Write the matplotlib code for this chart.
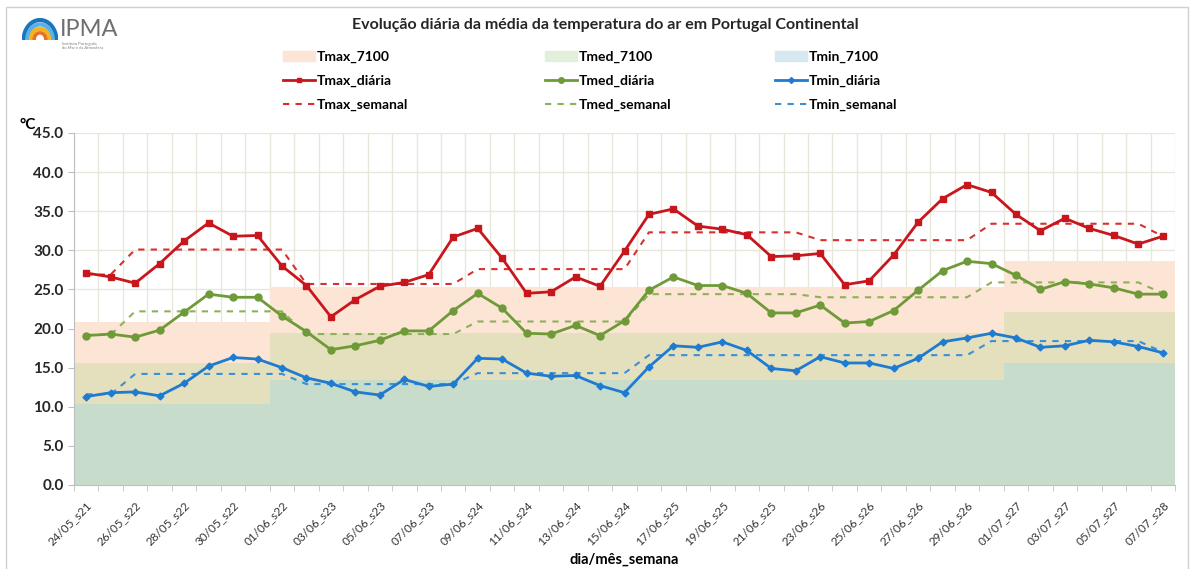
import numpy as np
import pandas as pd
import matplotlib
matplotlib.use('Agg')
import matplotlib.pyplot as plt
from matplotlib.patches import Patch, Arc, Rectangle
from matplotlib.lines import Line2D

plt.rcParams['font.family'] = ['Lato', 'DejaVu Sans']

# dias 24/05 a 07/07 e semana de cada dia
dias = pd.date_range('2023-05-24', '2023-07-07').strftime('%d/%m')
semanas = [21, 22, 23, 24, 25, 26, 27, 28]
dias_por_semana = [2, 7, 7, 7, 7, 7, 7, 1]
meses_dias = [8, 30, 7]  # maio, junho, julho dentro do periodo

tmax_diaria = [27.1, 26.6, 25.8, 28.3, 31.2, 33.5, 31.8, 31.9, 28.0, 25.5, 21.5, 23.7,
               25.4, 25.9, 26.9, 31.7, 32.8, 29.0, 24.5, 24.7, 26.6, 25.4, 29.9, 34.6,
               35.3, 33.1, 32.7, 32.0, 29.2, 29.3, 29.6, 25.6, 26.1, 29.4, 33.6, 36.6,
               38.4, 37.4, 34.6, 32.5, 34.1, 32.8, 31.9, 30.8, 31.8]
tmed_diaria = [19.1, 19.3, 18.9, 19.8, 22.1, 24.4, 24.0, 24.0, 21.6, 19.6, 17.3, 17.8,
               18.5, 19.7, 19.7, 22.3, 24.5, 22.6, 19.4, 19.3, 20.4, 19.1, 21.0, 24.9,
               26.6, 25.5, 25.5, 24.5, 22.0, 22.0, 23.0, 20.7, 20.9, 22.3, 24.9, 27.4,
               28.6, 28.3, 26.8, 25.0, 26.0, 25.7, 25.2, 24.4, 24.4]
tmin_diaria = [11.3, 11.8, 11.9, 11.4, 13.0, 15.2, 16.3, 16.1, 15.0, 13.7, 13.0, 11.9,
               11.5, 13.5, 12.6, 12.9, 16.2, 16.1, 14.3, 13.9, 14.0, 12.7, 11.8, 15.1,
               17.8, 17.6, 18.3, 17.2, 14.9, 14.6, 16.4, 15.6, 15.6, 14.9, 16.2, 18.3,
               18.8, 19.4, 18.8, 17.6, 17.8, 18.5, 18.3, 17.7, 16.9]

tmax_semanal = [26.9, 30.1, 25.7, 27.6, 32.3, 31.3, 33.4, 31.8]
tmed_semanal = [19.2, 22.2, 19.3, 20.9, 24.4, 24.0, 25.9, 24.5]
tmin_semanal = [11.6, 14.2, 12.9, 14.3, 16.6, 16.6, 18.4, 17.0]

# normais 1971-2000 (maio, junho, julho)
tmax_7100 = [20.9, 25.3, 28.6]
tmed_7100 = [15.6, 19.4, 22.1]
tmin_7100 = [10.4, 13.4, 15.6]

sem_dia = np.repeat(semanas, dias_por_semana)
labels = [f'{d}_s{w}' for d, w in zip(dias, sem_dia)]
n = len(labels)
x = np.arange(n)

def por_dia(v, reps):
    return np.repeat(v, reps)

fig = plt.figure(figsize=(11.92, 5.69), dpi=100)
ax = fig.add_axes([74/1192, 1-485/569, (1175-74)/1192, (485-133)/569])

# areas das normais (degraus)
xe = np.arange(n + 1) - 0.5
for vals, cor in [(tmax_7100, '#fce5d5'), (tmed_7100, '#e4e0bd'), (tmin_7100, '#c7dcca')]:
    yv = por_dia(vals, meses_dias)
    yv = np.append(yv, yv[-1])
    ax.fill_between(xe, 0, yv, step='post', color=cor, lw=0, zorder=1)

ax.plot(x, por_dia(tmax_semanal, dias_por_semana), color='#d9302f', ls=(0, (3, 3)), lw=1.5, zorder=3)
ax.plot(x, por_dia(tmed_semanal, dias_por_semana), color='#8fb05a', ls=(0, (3, 3)), lw=1.5, zorder=3)
ax.plot(x, por_dia(tmin_semanal, dias_por_semana), color='#3a8fd8', ls=(0, (3, 3)), lw=1.5, zorder=3)

ax.plot(x, tmax_diaria, color='#c8161d', lw=2, marker='s', ms=4, zorder=4)
ax.plot(x, tmed_diaria, color='#6f9a38', lw=2, marker='o', ms=5, zorder=4)
ax.plot(x, tmin_diaria, color='#1f7bd0', lw=2, marker='D', ms=3.5, zorder=4)

ax.set_xlim(-0.5, n - 0.5)
ax.set_ylim(0, 45)
ax.set_yticks(np.arange(0, 46, 5))
ax.set_yticklabels([f'{v:.1f}' for v in np.arange(0, 46, 5)], fontsize=11, fontweight='bold', color='#262626')
ax.set_xticks(x[::2])
ax.set_xticklabels(labels[::2], rotation=45, ha='right', rotation_mode='anchor', fontsize=8.5, color='#333333')
ax.set_xticks(xe, minor=True)
ax.tick_params(axis='x', which='major', length=0, pad=10)
ax.tick_params(axis='x', which='minor', length=4, color='#bfbfbf')
ax.tick_params(axis='y', length=4, color='#bfbfbf')
ax.grid(True, axis='y', which='major', color='#e9e7dc', lw=1, zorder=0)
ax.grid(True, axis='x', which='minor', color='#e9e7dc', lw=1, zorder=0)
ax.set_axisbelow(True)
for s in ['top', 'right']:
    ax.spines[s].set_visible(False)
ax.spines['left'].set_color('#bfbfbf')
ax.spines['bottom'].set_color('#bfbfbf')

ax.set_xlabel('dia/mês_semana', fontsize=10.5, fontweight='bold', labelpad=4)
fig.text(20/1192, 1-125/569, '°C', fontsize=11, fontweight='bold', va='center')
fig.text(605/1192, 1-25/569, 'Evolução diária da média da temperatura do ar em Portugal Continental',
         ha='center', va='center', fontsize=11.5, fontweight='bold', color='#262626')

# legenda em tres colunas
cols = [
    [(Patch(color='#fce4d6'), 'Tmax_7100'),
     (Line2D([], [], color='#c8161d', lw=2, marker='s', ms=3), 'Tmax_diária'),
     (Line2D([], [], color='#d9302f', lw=1.5, ls=(0, (3, 3))), 'Tmax_semanal')],
    [(Patch(color='#e2efda'), 'Tmed_7100'),
     (Line2D([], [], color='#6f9a38', lw=2, marker='o', ms=4), 'Tmed_diária'),
     (Line2D([], [], color='#8fb05a', lw=1.5, ls=(0, (3, 3))), 'Tmed_semanal')],
    [(Patch(color='#d6e9f1'), 'Tmin_7100'),
     (Line2D([], [], color='#1f7bd0', lw=2, marker='D', ms=3), 'Tmin_diária'),
     (Line2D([], [], color='#3a8fd8', lw=1.5, ls=(0, (3, 3))), 'Tmin_semanal')],
]
for xc, col in zip([283, 545, 775], cols):
    fig.legend([h for h, _ in col], [l for _, l in col], loc='upper left',
               bbox_to_anchor=(xc/1192, 1-51/569), frameon=False, handlelength=2.3,
               handletextpad=0.1, labelspacing=0.85, borderaxespad=0, borderpad=0,
               prop={'size': 10, 'weight': 'bold'})

# logotipo IPMA
lax = fig.add_axes([22/1192, 1-40/569, 36/1192, 22/569])
lax.set_xlim(-1.1, 1.1)
lax.set_ylim(0, 1.1)
lax.axis('off')
for r, c, w in [(1.0, '#1b75bb', 3), (0.78, '#5bb0e5', 3), (0.56, '#f6b21b', 3), (0.36, '#e8702a', 2.5)]:
    lax.add_patch(Arc((0, 0), 2*r, 2*r, theta1=0, theta2=180, color=c, lw=w))
fig.text(60/1192, 1-30/569, 'IPMA', fontsize=17, color='#6f6f6f', va='center')
fig.text(62/1192, 1-46/569, 'Instituto Português\ndo Mar e da Atmosfera', fontsize=3, color='#7f7f7f',
         va='center', linespacing=1.0)

fig.add_artist(Rectangle((6/1192, -0.01), 1 - 10/1192, 1 - 7/569 + 0.01, transform=fig.transFigure,
                         fill=False, ec='#d0d0d0', lw=1))

fig.savefig('out.png', dpi=100)
